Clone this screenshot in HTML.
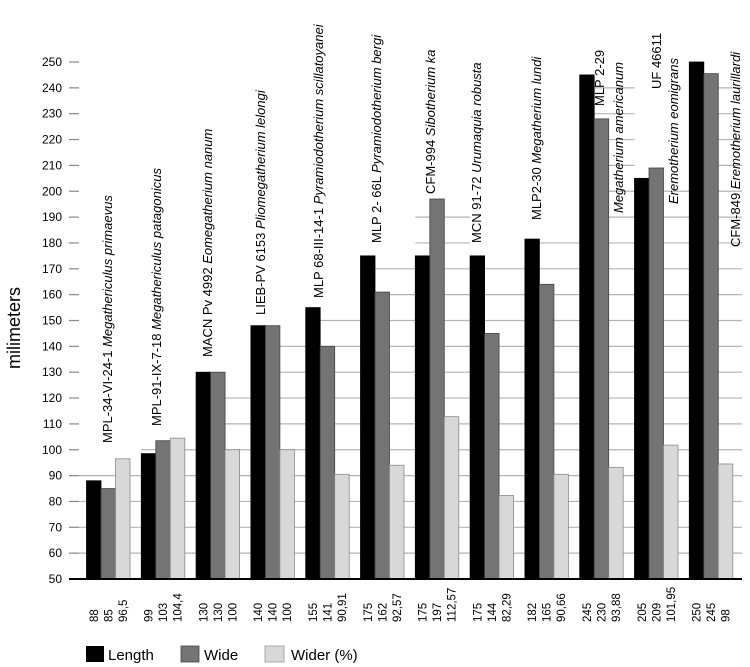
<!DOCTYPE html>
<html><head><meta charset="utf-8"><style>
html,body{margin:0;padding:0;background:#fff;}
svg{display:block;font-family:"Liberation Sans",sans-serif;}
</style></head><body>
<svg id="chart" width="750" height="667" viewBox="0 0 750 667" xmlns="http://www.w3.org/2000/svg">
<g id="grid"></g>
<g id="bars"></g>
<g id="yaxis"></g>
<g id="vals"></g>
<g id="names"></g>
<text transform="translate(20,328) rotate(-90)" text-anchor="middle" font-size="18">milimeters</text>
<line x1="69" y1="579" x2="742" y2="579" stroke="#000" stroke-width="2"/>
<g>
<g><rect x="86" y="646" width="18" height="16" fill="#000"/><text x="108" y="660" font-size="15">Length</text></g>
<g><rect x="181" y="646" width="18" height="16" fill="#747474" stroke="#444" stroke-width="0.8"/><text x="204" y="660" font-size="15">Wide</text></g>
<g><rect x="265" y="646" width="19" height="16" fill="#d8d8d8" stroke="#999" stroke-width="0.8"/><text x="291" y="660" font-size="15">Wider (%)</text></g>
</g>
</svg>
<script>
const groups = ["MPL-34-VI-24-1","MPL-91-IX-7-18","MACN Pv 4992","LIEB-PV 6153","MLP 68-III-14-1","MLP 2- 66L","CFM-994","MCN 91-72","MLP2-30","MLP 2-29","UF 46611","CFM-849"];
const lengthValues = [88, 98.5, 130, 148, 155, 175, 175, 175, 181.5, 245, 205, 250];
const wideValues = [85, 103.5, 130, 148, 140, 161, 197, 145, 164, 228, 209, 245.5];
const widerValues = [96.5, 104.5, 100, 100, 90.5, 94, 112.8, 82.3, 90.5, 93.2, 101.8, 94.5];
const lengthLabels = ["88","99","130","140","155","175","175","175","182","245","205","250"];
const wideLabels = ["85","103","130","140","141","162","197","144","165","230","209","245"];
const widerLabels = ["96,5","104,4","100","100","90,91","92,57","112,57","82,29","90,66","93,88","101,95","98"];
const yTicks = [50,60,70,80,90,100,110,120,130,140,150,160,170,180,190,200,210,220,230,240,250];

const NS = "http://www.w3.org/2000/svg";
function mk(tag, attrs, parent){const e=document.createElementNS(NS,tag);for(const k in attrs)e.setAttribute(k,attrs[k]);parent.appendChild(e);return e;}
const yMin=50, yMax=250, y0=579, y1=62;
function y(v){return y0-(v-yMin)*(y0-y1)/(yMax-yMin);}
const gStart=86.5, gStep=54.8, bw=14.5;
function x(i,s){return gStart+i*gStep+s*bw;}

const grid=document.getElementById('grid');
const bars=document.getElementById('bars');
const yaxis=document.getElementById('yaxis');
const vals=document.getElementById('vals');
const names=document.getElementById('names');

groups.forEach((g,i)=>{
  const mx=Math.max(lengthValues[i],wideValues[i],widerValues[i]);
  const xa = i===0 ? 79 : x(i,0);
  const xb = i===groups.length-1 ? 742 : x(i+1,0);
  yTicks.forEach(t=>{
    if(t>yMin && t<mx){
      const l=mk('line',{x1:xa,x2:xb,y1:y(t),y2:y(t),stroke:'#b4b4b4','stroke-width':1.2},grid);
      
      
    }
  });
});

const series=[[lengthValues,'#000','#000','length',lengthLabels],[wideValues,'#747474','#444','wide',wideLabels],[widerValues,'#d8d8d8','#8a8a8a','wider',widerLabels]];
groups.forEach((g,i)=>{
  series.forEach((s,si)=>{
    const v=s[0][i];
    const r=mk('rect',{x:x(i,si),y:y(v),width:bw,height:y0-y(v),fill:s[1],stroke:s[2],'stroke-width':0.8},bars);
    
    
    const cx=x(i,si)+bw/2+4;
    const t=mk('text',{transform:'translate('+cx+',622) rotate(-90)','font-size':11.5},vals);
    t.textContent=s[4][i];
    
    
  });
});

yTicks.forEach(t=>{
  const l=mk('line',{x1:69,x2:79,y1:y(t),y2:y(t),stroke:'#888','stroke-width':1.2},yaxis);
  
  
  const tx=mk('text',{x:62,y:y(t)+4,'text-anchor':'end','font-size':12},yaxis);
  tx.textContent=t;
  
  
});

const specimenLayout=[
 [112,443,"MPL-34-VI-24-1 ","Megathericulus primaevus"],
 [161,426,"MPL-91-IX-7-18 ","Megathericulus patagonicus"],
 [212,357,"MACN Pv 4992 ","Eomegatherium nanum"],
 [265,315,"LIEB-PV 6153 ","Pliomegatherium lelongi"],
 [323,298,"MLP 68-III-14-1 ","Pyramiodotherium scillatoyanei"],
 [381,243,"MLP 2- 66L ","Pyramiodotherium bergi"],
 [435,194,"CFM-994 ","Sibotherium ka"],
 [481,243,"MCN 91-72 ","Urumaquia robusta"],
 [541,220,"MLP2-30 ","Megatherium lundi"],
 [604,106,"MLP 2-29",""],
 [623,213,"","Megatherium americanum"],
 [661,89,"UF 46611",""],
 [678,204,"","Eremotherium eomigrans"],
 [740,247,"CFM-849 ","Eremotherium laurillardi"]
];
specimenLayout.forEach((s,i)=>{
  const t=mk('text',{transform:'translate('+s[0]+','+s[1]+') rotate(-90)','font-size':13},names);
  
  
  if(s[2]){const a=mk('tspan',{},t);a.textContent=s[2];}
  if(s[3]){const b=mk('tspan',{'font-style':'italic'},t);b.textContent=s[3];}
});
</script>
</body></html>
